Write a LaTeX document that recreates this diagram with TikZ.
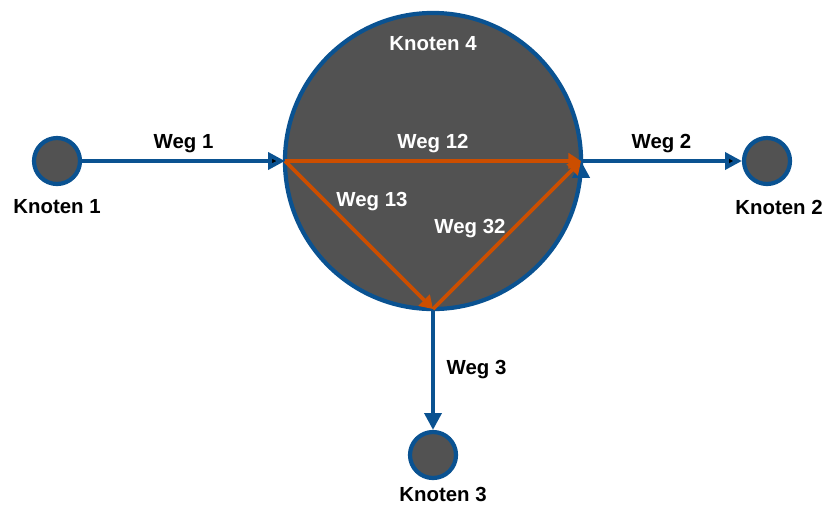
\documentclass[tikz,border=0pt]{standalone}
\usepackage{fontspec}
\setmainfont{Liberation Sans}
\usetikzlibrary{positioning}
\usetikzlibrary{arrows.meta}

\definecolor{netblue}{RGB}{10,82,145}
\definecolor{netorange}{RGB}{204,78,0}
\definecolor{netgray}{RGB}{82,82,82}

\tikzset{
  knot/.style={circle,draw=netblue,fill=netgray,line width=3pt,minimum size=1.15cm,inner sep=0pt},
  bigknot/.style={knot,minimum size=7.4cm,outer sep=0pt},
  txt/.style={font=\fontsize{14.5}{17}\selectfont\bfseries},
  weg/.style={draw=netblue,line width=2.8pt,-{Triangle[length=12pt,width=12pt]}},
  inner/.style={draw=netorange,line width=2.6pt,-{Triangle[length=9pt,width=11pt]}}
}

\begin{document}
\begin{tikzpicture}[x=0.025cm,y=-0.025cm]
        \useasboundingbox (0,0) rectangle (826,506);

        \node[bigknot] (k4) at (433,161) {};
        \node[knot] (k1) at (57,161) {};
        \node[knot] (k2) at (767,161) {};
        \node[knot] (k3) at (433,455) {};

        \node[txt] (t1) at (57,207) {Knoten 1};
        \node[txt] (t2) at (779,207) {Knoten 2};
        \node[txt] (t3) at (443,494) {Knoten 3};
        \node[txt,white] (t4) at (433,44) {Knoten 4};

        % outer paths
        \path[weg]
        (k1) edge node[txt,above=1pt] {Weg 1} (k4.west)
        (k4.east) edge node[txt,above=1pt] {Weg 2} (k2);
        \draw[weg] (k4.south) -- node[txt,right=5pt] {Weg 3} (k3);

        % paths inside knoten 4
        \draw[inner] (k4.west) -- node[txt,white,above=1pt] {Weg 12} (k4.east);
        \draw[inner] (k4.west) -- (k4.south);
        \draw[inner] (k4.south) -- (k4.east);
        \node[txt,white] (w13) at (372,202) {Weg 13};
        \node[txt,white] (w32) at (470,229) {Weg 32};
      \end{tikzpicture}
\end{document}
